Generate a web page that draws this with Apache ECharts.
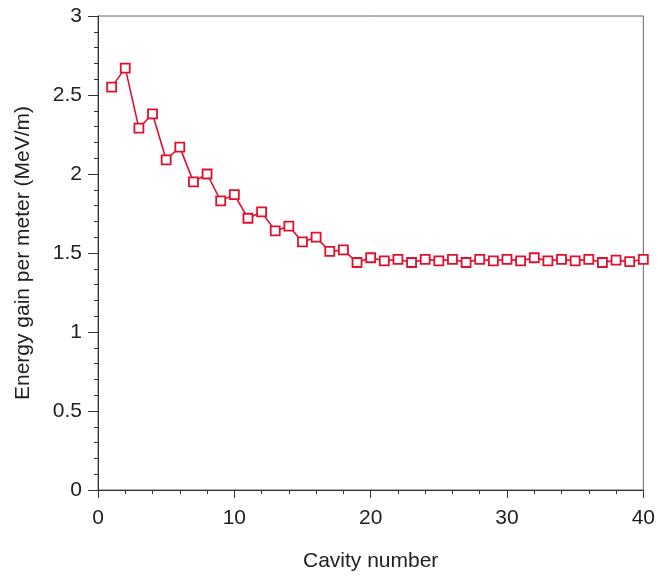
<!DOCTYPE html>
<html>
<head>
<meta charset="utf-8">
<script src="https://cdn.jsdelivr.net/npm/echarts@6/dist/echarts.min.js"></script>
<style>
html,body{margin:0;padding:0;background:#fff;}
#c{width:658px;height:577px;}
</style>
</head>
<body>
<div id="c"></div>
<script>
const cavities = [1,2,3,4,5,6,7,8,9,10,11,12,13,14,15,16,17,18,19,20,21,22,23,24,25,26,27,28,29,30,31,32,33,34,35,36,37,38,39,40];
const energyGain = [2.55,2.67,2.29,2.38,2.09,2.17,1.95,2.00,1.83,1.87,1.72,1.76,1.64,1.67,1.57,1.60,1.51,1.52,1.44,1.47,1.45,1.46,1.44,1.46,1.45,1.46,1.44,1.46,1.45,1.46,1.45,1.47,1.45,1.46,1.45,1.46,1.44,1.455,1.445,1.46];
const xTitle = 'Cavity number';
const yTitle = 'Energy gain per meter (MeV/m)';

const font = 'Liberation Sans, Arial, sans-serif';
const textColor = '#222';
const axisColor = '#333';
const red = '#e0102e';

const chart = echarts.init(document.getElementById('c'), null, {renderer:'canvas'});
chart.setOption({
  backgroundColor:'#fff',
  animation:false,
  grid:{left:98,right:13,top:16,bottom:84,containLabel:false,show:true,borderColor:'#666',borderWidth:1,backgroundColor:'transparent'},
  xAxis:{
    type:'value', min:0, max:40, interval:10,
    name:xTitle, nameLocation:'middle', nameGap:61,
    nameTextStyle:{fontFamily:font,fontSize:21,color:textColor},
    axisLine:{show:true,onZero:false,lineStyle:{color:axisColor,width:1}},
    axisTick:{show:true,inside:false,length:8,lineStyle:{color:axisColor}},
    minorTick:{show:true,splitNumber:5,length:4,lineStyle:{color:axisColor}},
    axisLabel:{fontFamily:font,fontSize:21,color:textColor,margin:18},
    splitLine:{show:false}
  },
  yAxis:{
    type:'value', min:0, max:3, interval:0.5,
    name:yTitle, nameLocation:'middle', nameGap:64,
    nameTextStyle:{fontFamily:font,fontSize:21,color:textColor},
    axisLine:{show:true,onZero:false,lineStyle:{color:axisColor,width:1}},
    axisTick:{show:true,inside:false,length:10,lineStyle:{color:axisColor}},
    minorTick:{show:true,splitNumber:5,length:4,lineStyle:{color:axisColor}},
    axisLabel:{fontFamily:font,fontSize:21,color:textColor,margin:16},
    splitLine:{show:false}
  },
  series:[{
    type:'line',
    data:cavities.map((c,i)=>[c,energyGain[i]]),
    lineStyle:{color:red,width:1.6},
    symbol:'rect', symbolSize:9, showAllSymbol:true,
    itemStyle:{color:'#fff',borderColor:red,borderWidth:1.8},
    z:3
  }]
});
</script>
</body>
</html>
